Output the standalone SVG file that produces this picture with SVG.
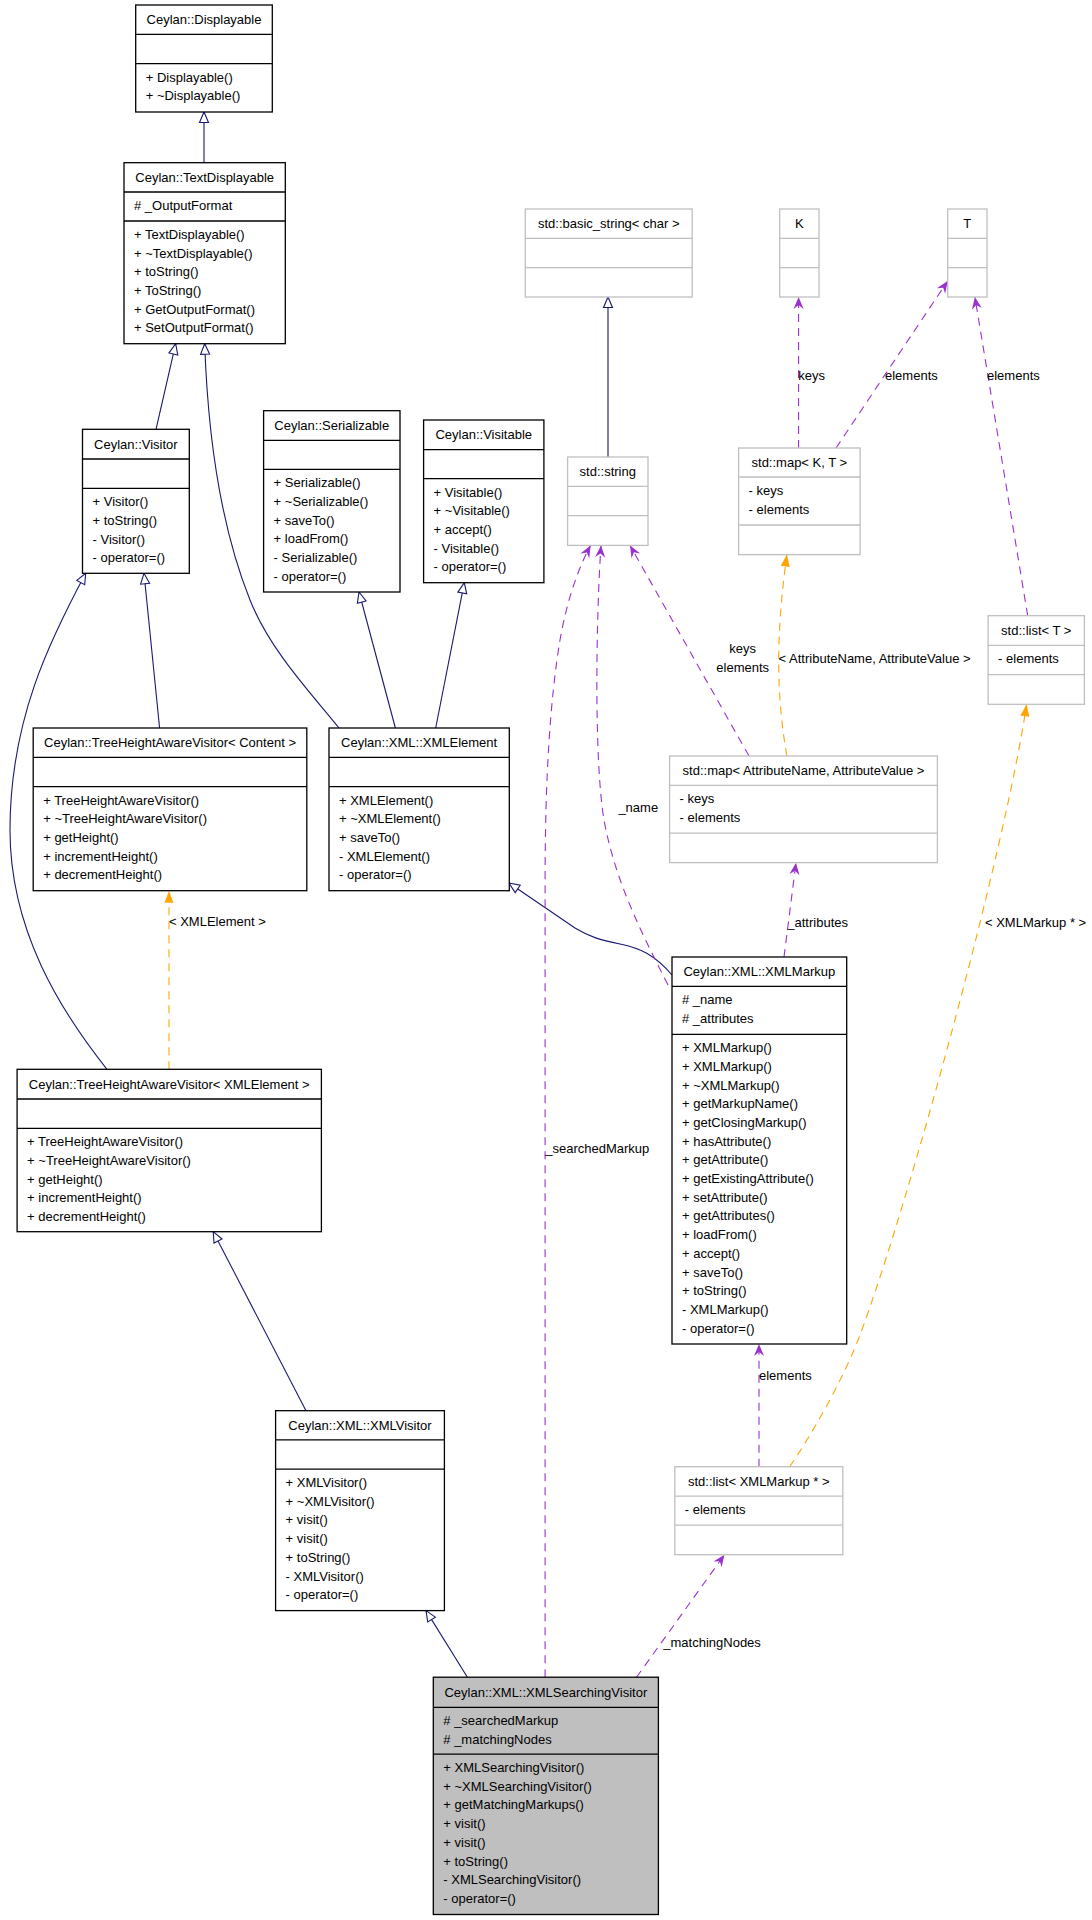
<svg xmlns="http://www.w3.org/2000/svg" width="1092" height="1920" viewBox="0 0 1092 1920">
<style>
text{font-family:"Liberation Sans",Arial,Helvetica,sans-serif;font-size:13px;fill:#000}
.t{text-anchor:middle}
.b{fill:#fff;stroke:#000;stroke-width:1.3}
.s{fill:#bfbfbf;stroke:#000;stroke-width:1.3}
.g{fill:#fff;stroke:#bfbfbf;stroke-width:1.3}
.d{stroke:#000;stroke-width:1.3}
.dg{stroke:#bfbfbf;stroke-width:1.3}
.inh{fill:none;stroke:#191970;stroke-width:1.1;marker-end:url(#mInh)}
.use{fill:none;stroke:#9a32cd;stroke-width:1.1;stroke-dasharray:8,6;marker-end:url(#mUse)}
.tpl{fill:none;stroke:#ffa500;stroke-width:1.1;stroke-dasharray:8,6;marker-end:url(#mTpl)}
</style>
<defs>
<marker id="mInh" markerUnits="userSpaceOnUse" markerWidth="14" markerHeight="12" refX="11" refY="5" orient="auto" overflow="visible"><path d="M0.5,0.5 L11,5 L0.5,9.5 Z" fill="#fff" stroke="#191970" stroke-width="1.1"/></marker>
<marker id="mUse" markerUnits="userSpaceOnUse" markerWidth="14" markerHeight="12" refX="12" refY="5" orient="auto" overflow="visible"><path d="M0,0 L12,5 L0,10 L4,5 Z" fill="#9a32cd"/></marker>
<marker id="mTpl" markerUnits="userSpaceOnUse" markerWidth="14" markerHeight="12" refX="12" refY="4.5" orient="auto" overflow="visible"><path d="M0,0 L12,4.5 L0,9 Z" fill="#ffa500"/></marker>
</defs>
<rect width="1092" height="1920" fill="#fff"/>
<g id="connectors">
<path class="inh" d="M204,162.7 L204,112"/>
<path class="inh" d="M156,429.3 L175.7,343.7"/>
<path class="inh" d="M339,728 C310,692 270,650 250,600 C222,530 208,440 204.7,343.7"/>
<path class="inh" d="M159.6,728 L144,573.3"/>
<path class="inh" d="M395.4,728 L359,592"/>
<path class="inh" d="M435.7,728 L464.3,582.7"/>
<path class="inh" d="M107,1069.3 C60,1010 10,930 10,830 C10,720 50,640 85.7,573.3"/>
<path class="inh" d="M608,457 L608,297"/>
<path class="inh" d="M672,975 C655,955 640,948 620,944 C600,940 590,937 575,928 L509,883"/>
<path class="inh" d="M306,1410.7 L213.2,1231.7"/>
<path class="inh" d="M467.4,1677.2 L426,1610.6"/>
<path class="use" d="M798.6,448 L798.6,297"/>
<text x="798.2" y="380">keys</text>
<path class="use" d="M836,448 L947.7,281"/>
<text x="885" y="380">elements</text>
<path class="use" d="M1027.7,615.7 L974.9,297"/>
<text x="987" y="380">elements</text>
<path class="use" d="M749,756 L630,545.4"/>
<text class="t" x="742.7" y="653.4">keys</text>
<text class="t" x="742.7" y="672">elements</text>
<path class="use" d="M668,985 C640,930 615,880 604,820 C594,760 596,620 601,545.4"/>
<text x="618.4" y="812.3">_name</text>
<path class="use" d="M545.1,1677.2 L545.1,880 C545.1,780 550,700 560,640 C568,595 580,565 590.6,545.4"/>
<text x="545.2" y="1153">_searchedMarkup</text>
<path class="use" d="M784,957 L796,862.7"/>
<text x="787.3" y="927.2">_attributes</text>
<path class="use" d="M759,1466.7 L759,1344"/>
<text x="759" y="1380">elements</text>
<path class="use" d="M636.5,1677.2 L724.5,1554.7"/>
<text x="663.3" y="1647">_matchingNodes</text>
<path class="tpl" d="M169,1069.3 L169,890.7"/>
<text x="169" y="926.3">&lt; XMLElement &gt;</text>
<path class="tpl" d="M786.9,756 C777,700 775,640 786.9,554.6"/>
<text x="778.6" y="663.1">&lt; AttributeName, AttributeValue &gt;</text>
<path class="tpl" d="M789.6,1466.7 C815,1430 845,1375 860,1335 C910,1200 1005,850 1026.6,704.3"/>
<text x="985" y="927.2">&lt; XMLMarkup * &gt;</text>
</g>
<g id="Displayable">
<rect class="b" x="135.7" y="5" width="136.6" height="107"/>
<line class="d" x1="135.7" y1="34.3" x2="272.3" y2="34.3"/>
<line class="d" x1="135.7" y1="63.7" x2="272.3" y2="63.7"/>
<text class="t" x="204" y="24.2">Ceylan::Displayable</text>
<text x="145.7" y="81.5">+ Displayable()</text>
<text x="145.7" y="100.2">+ ~Displayable()</text>
</g>
<g id="TextDisplayable">
<rect class="b" x="124" y="162.7" width="161.3" height="181"/>
<line class="d" x1="124" y1="192" x2="285.3" y2="192"/>
<line class="d" x1="124" y1="221" x2="285.3" y2="221"/>
<text class="t" x="204.7" y="181.9">Ceylan::TextDisplayable</text>
<text x="134" y="209.8"># _OutputFormat</text>
<text x="134" y="238.8">+ TextDisplayable()</text>
<text x="134" y="257.5">+ ~TextDisplayable()</text>
<text x="134" y="276.2">+ toString()</text>
<text x="134" y="294.9">+ ToString()</text>
<text x="134" y="313.6">+ GetOutputFormat()</text>
<text x="134" y="332.3">+ SetOutputFormat()</text>
</g>
<g id="Visitor">
<rect class="b" x="82.5" y="429.3" width="106.8" height="144"/>
<line class="d" x1="82.5" y1="459" x2="189.3" y2="459"/>
<line class="d" x1="82.5" y1="488.3" x2="189.3" y2="488.3"/>
<text class="t" x="135.9" y="448.7">Ceylan::Visitor</text>
<text x="92.5" y="506.1">+ Visitor()</text>
<text x="92.5" y="524.8">+ toString()</text>
<text x="92.5" y="543.5">- Visitor()</text>
<text x="92.5" y="562.2">- operator=()</text>
</g>
<g id="Serializable">
<rect class="b" x="263.6" y="410.7" width="136.4" height="181.3"/>
<line class="d" x1="263.6" y1="440.3" x2="400" y2="440.3"/>
<line class="d" x1="263.6" y1="469.3" x2="400" y2="469.3"/>
<text class="t" x="331.8" y="430">Ceylan::Serializable</text>
<text x="273.6" y="487.1">+ Serializable()</text>
<text x="273.6" y="505.8">+ ~Serializable()</text>
<text x="273.6" y="524.5">+ saveTo()</text>
<text x="273.6" y="543.2">+ loadFrom()</text>
<text x="273.6" y="561.9">- Serializable()</text>
<text x="273.6" y="580.6">- operator=()</text>
</g>
<g id="Visitable">
<rect class="b" x="423.6" y="420" width="120.3" height="162.7"/>
<line class="d" x1="423.6" y1="449.7" x2="543.9" y2="449.7"/>
<line class="d" x1="423.6" y1="478.7" x2="543.9" y2="478.7"/>
<text class="t" x="483.75" y="439.4">Ceylan::Visitable</text>
<text x="433.6" y="496.5">+ Visitable()</text>
<text x="433.6" y="515.2">+ ~Visitable()</text>
<text x="433.6" y="533.9">+ accept()</text>
<text x="433.6" y="552.6">- Visitable()</text>
<text x="433.6" y="571.3">- operator=()</text>
</g>
<g id="TreeHeightAwareVisitorContent">
<rect class="b" x="33.2" y="728" width="273.6" height="162.7"/>
<line class="d" x1="33.2" y1="757.3" x2="306.8" y2="757.3"/>
<line class="d" x1="33.2" y1="786.7" x2="306.8" y2="786.7"/>
<text class="t" x="170" y="747.2">Ceylan::TreeHeightAwareVisitor&lt; Content &gt;</text>
<text x="43.2" y="804.5">+ TreeHeightAwareVisitor()</text>
<text x="43.2" y="823.2">+ ~TreeHeightAwareVisitor()</text>
<text x="43.2" y="841.9">+ getHeight()</text>
<text x="43.2" y="860.6">+ incrementHeight()</text>
<text x="43.2" y="879.3">+ decrementHeight()</text>
</g>
<g id="XMLElement">
<rect class="b" x="329" y="728" width="180.3" height="162.7"/>
<line class="d" x1="329" y1="757.3" x2="509.3" y2="757.3"/>
<line class="d" x1="329" y1="786.7" x2="509.3" y2="786.7"/>
<text class="t" x="419.15" y="747.2">Ceylan::XML::XMLElement</text>
<text x="339" y="804.5">+ XMLElement()</text>
<text x="339" y="823.2">+ ~XMLElement()</text>
<text x="339" y="841.9">+ saveTo()</text>
<text x="339" y="860.6">- XMLElement()</text>
<text x="339" y="879.3">- operator=()</text>
</g>
<g id="basic_string">
<rect class="g" x="525.3" y="209" width="166.9" height="88"/>
<line class="dg" x1="525.3" y1="238.3" x2="692.2" y2="238.3"/>
<line class="dg" x1="525.3" y1="267.6" x2="692.2" y2="267.6"/>
<text class="t" x="608.75" y="228.2">std::basic_string&lt; char &gt;</text>
</g>
<g id="K">
<rect class="g" x="779.7" y="209" width="39.3" height="88"/>
<line class="dg" x1="779.7" y1="238.3" x2="819" y2="238.3"/>
<line class="dg" x1="779.7" y1="267.6" x2="819" y2="267.6"/>
<text class="t" x="799.35" y="228.2">K</text>
</g>
<g id="T">
<rect class="g" x="947.7" y="209" width="39.3" height="88"/>
<line class="dg" x1="947.7" y1="238.3" x2="987" y2="238.3"/>
<line class="dg" x1="947.7" y1="267.6" x2="987" y2="267.6"/>
<text class="t" x="967.35" y="228.2">T</text>
</g>
<g id="string">
<rect class="g" x="567.6" y="457" width="80.4" height="88.4"/>
<line class="dg" x1="567.6" y1="486.4" x2="648" y2="486.4"/>
<line class="dg" x1="567.6" y1="515.7" x2="648" y2="515.7"/>
<text class="t" x="607.8" y="476.2">std::string</text>
</g>
<g id="mapKT">
<rect class="g" x="738.6" y="448" width="121.5" height="106.6"/>
<line class="dg" x1="738.6" y1="477" x2="860.1" y2="477"/>
<line class="dg" x1="738.6" y1="525" x2="860.1" y2="525"/>
<text class="t" x="799.35" y="467">std::map&lt; K, T &gt;</text>
<text x="748.6" y="494.8">- keys</text>
<text x="748.6" y="513.5">- elements</text>
</g>
<g id="listT">
<rect class="g" x="988.1" y="615.7" width="96.3" height="88.6"/>
<line class="dg" x1="988.1" y1="645.4" x2="1084.4" y2="645.4"/>
<line class="dg" x1="988.1" y1="674.6" x2="1084.4" y2="674.6"/>
<text class="t" x="1036.25" y="635">std::list&lt; T &gt;</text>
<text x="998.1" y="663.2">- elements</text>
</g>
<g id="mapAttr">
<rect class="g" x="669.6" y="756" width="267.8" height="106.6"/>
<line class="dg" x1="669.6" y1="785.4" x2="937.4" y2="785.4"/>
<line class="dg" x1="669.6" y1="833.1" x2="937.4" y2="833.1"/>
<text class="t" x="803.5" y="775.2">std::map&lt; AttributeName, AttributeValue &gt;</text>
<text x="679.6" y="803.2">- keys</text>
<text x="679.6" y="821.9">- elements</text>
</g>
<g id="XMLMarkup">
<rect class="b" x="672" y="957" width="174.7" height="387"/>
<line class="d" x1="672" y1="986.3" x2="846.7" y2="986.3"/>
<line class="d" x1="672" y1="1034.3" x2="846.7" y2="1034.3"/>
<text class="t" x="759.35" y="976.2">Ceylan::XML::XMLMarkup</text>
<text x="682" y="1004.1"># _name</text>
<text x="682" y="1022.8"># _attributes</text>
<text x="682" y="1052.1">+ XMLMarkup()</text>
<text x="682" y="1070.8">+ XMLMarkup()</text>
<text x="682" y="1089.5">+ ~XMLMarkup()</text>
<text x="682" y="1108.2">+ getMarkupName()</text>
<text x="682" y="1126.9">+ getClosingMarkup()</text>
<text x="682" y="1145.6">+ hasAttribute()</text>
<text x="682" y="1164.3">+ getAttribute()</text>
<text x="682" y="1183">+ getExistingAttribute()</text>
<text x="682" y="1201.7">+ setAttribute()</text>
<text x="682" y="1220.4">+ getAttributes()</text>
<text x="682" y="1239.1">+ loadFrom()</text>
<text x="682" y="1257.8">+ accept()</text>
<text x="682" y="1276.5">+ saveTo()</text>
<text x="682" y="1295.2">+ toString()</text>
<text x="682" y="1313.9">- XMLMarkup()</text>
<text x="682" y="1332.6">- operator=()</text>
</g>
<g id="TreeHeightAwareVisitorXMLElement">
<rect class="b" x="17.1" y="1069.3" width="304.3" height="162.4"/>
<line class="d" x1="17.1" y1="1099" x2="321.4" y2="1099"/>
<line class="d" x1="17.1" y1="1128.3" x2="321.4" y2="1128.3"/>
<text class="t" x="169.25" y="1088.7">Ceylan::TreeHeightAwareVisitor&lt; XMLElement &gt;</text>
<text x="27.1" y="1146.1">+ TreeHeightAwareVisitor()</text>
<text x="27.1" y="1164.8">+ ~TreeHeightAwareVisitor()</text>
<text x="27.1" y="1183.5">+ getHeight()</text>
<text x="27.1" y="1202.2">+ incrementHeight()</text>
<text x="27.1" y="1220.9">+ decrementHeight()</text>
</g>
<g id="XMLVisitor">
<rect class="b" x="275.6" y="1410.7" width="168.8" height="199.9"/>
<line class="d" x1="275.6" y1="1439.8" x2="444.4" y2="1439.8"/>
<line class="d" x1="275.6" y1="1469.2" x2="444.4" y2="1469.2"/>
<text class="t" x="360" y="1429.8">Ceylan::XML::XMLVisitor</text>
<text x="285.6" y="1487">+ XMLVisitor()</text>
<text x="285.6" y="1505.7">+ ~XMLVisitor()</text>
<text x="285.6" y="1524.4">+ visit()</text>
<text x="285.6" y="1543.1">+ visit()</text>
<text x="285.6" y="1561.8">+ toString()</text>
<text x="285.6" y="1580.5">- XMLVisitor()</text>
<text x="285.6" y="1599.2">- operator=()</text>
</g>
<g id="listXMLMarkup">
<rect class="g" x="674.8" y="1466.7" width="168" height="88"/>
<line class="dg" x1="674.8" y1="1496.1" x2="842.8" y2="1496.1"/>
<line class="dg" x1="674.8" y1="1525.2" x2="842.8" y2="1525.2"/>
<text class="t" x="758.8" y="1485.9">std::list&lt; XMLMarkup * &gt;</text>
<text x="684.8" y="1513.9">- elements</text>
</g>
<g id="XMLSearchingVisitor">
<rect class="s" x="433.3" y="1677.2" width="225.1" height="237.3"/>
<line class="d" x1="433.3" y1="1707.3" x2="658.4" y2="1707.3"/>
<line class="d" x1="433.3" y1="1754.2" x2="658.4" y2="1754.2"/>
<text class="t" x="545.85" y="1696.8">Ceylan::XML::XMLSearchingVisitor</text>
<text x="443.3" y="1725.1"># _searchedMarkup</text>
<text x="443.3" y="1743.8"># _matchingNodes</text>
<text x="443.3" y="1772">+ XMLSearchingVisitor()</text>
<text x="443.3" y="1790.7">+ ~XMLSearchingVisitor()</text>
<text x="443.3" y="1809.4">+ getMatchingMarkups()</text>
<text x="443.3" y="1828.1">+ visit()</text>
<text x="443.3" y="1846.8">+ visit()</text>
<text x="443.3" y="1865.5">+ toString()</text>
<text x="443.3" y="1884.2">- XMLSearchingVisitor()</text>
<text x="443.3" y="1902.9">- operator=()</text>
</g>
</svg>
